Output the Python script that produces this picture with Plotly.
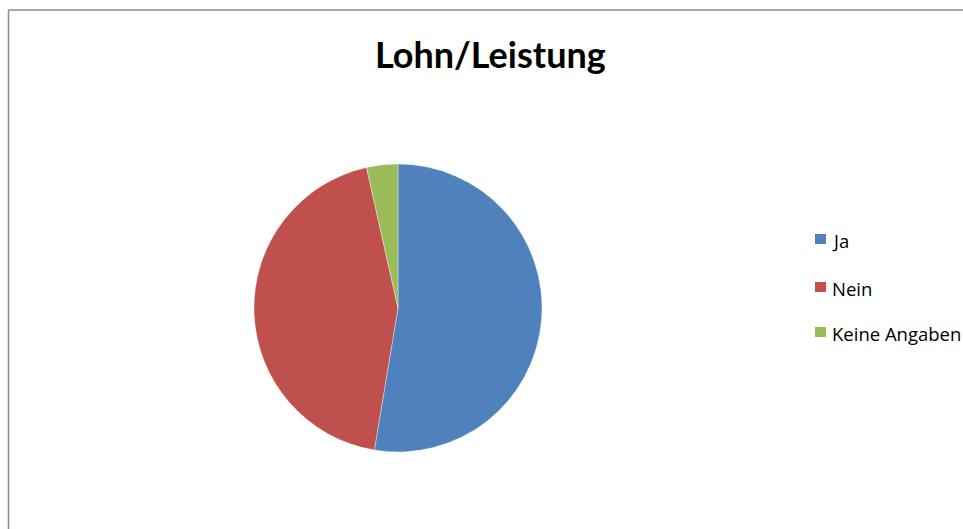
import plotly.graph_objects as go

# Survey answers on pay vs. performance
labels = ["Ja", "Nein", "Keine Angaben"]
counts = [30, 25, 2]
colors = ["#4F81BD", "#C0504D", "#9BBB59"]
title_text = "Lohn/Leistung"

W, H = 963, 529
cx, cy, r = 398, 308, 144  # pie centre and radius in px

fig = go.Figure(
    go.Pie(
        labels=labels,
        values=counts,
        sort=False,
        direction="clockwise",
        rotation=0,
        marker=dict(colors=colors, line=dict(color="rgba(255,255,255,0.6)", width=0.6)),
        textinfo="none",
        hoverinfo="label+value+percent",
        showlegend=False,
        domain=dict(
            x=[(cx - r) / W, (cx + r) / W],
            y=[1 - (cy + r) / H, 1 - (cy - r) / H],
        ),
    )
)

# Chart frame (left and top edges visible)
fig.add_shape(type="line", xref="paper", yref="paper",
              x0=8.5 / W, x1=8.5 / W, y0=0, y1=1 - 10 / H,
              line=dict(color="#8a8a8a", width=1.5))
fig.add_shape(type="line", xref="paper", yref="paper",
              x0=8.5 / W, x1=1, y0=1 - 10 / H, y1=1 - 10 / H,
              line=dict(color="#8a8a8a", width=1.5))

# Title
fig.add_annotation(text="<b>" + title_text + "</b>", xref="paper", yref="paper",
                   x=490 / W, y=1 - 54.5 / H, xanchor="center", yanchor="middle",
                   showarrow=False, font=dict(family="Lato", size=36, color="#000"))

# Legend: colour swatch + label for each slice
leg_y = [239, 287, 332]
for lab, col, yy in zip(labels, colors, leg_y):
    fig.add_shape(type="rect", xref="paper", yref="paper",
                  x0=815 / W, x1=826 / W, y0=1 - (yy + 5) / H, y1=1 - (yy - 5) / H,
                  fillcolor=col, line=dict(width=0))
    fig.add_annotation(text=lab, xref="paper", yref="paper",
                       x=830 / W, y=1 - (yy + 1) / H, xanchor="left", yanchor="middle",
                       showarrow=False, font=dict(family="Open Sans", size=18.5, color="#000"))

fig.update_layout(
    width=W, height=H,
    margin=dict(l=0, r=0, t=0, b=0),
    paper_bgcolor="white",
    plot_bgcolor="white",
)

fig.write_html("out.html")
